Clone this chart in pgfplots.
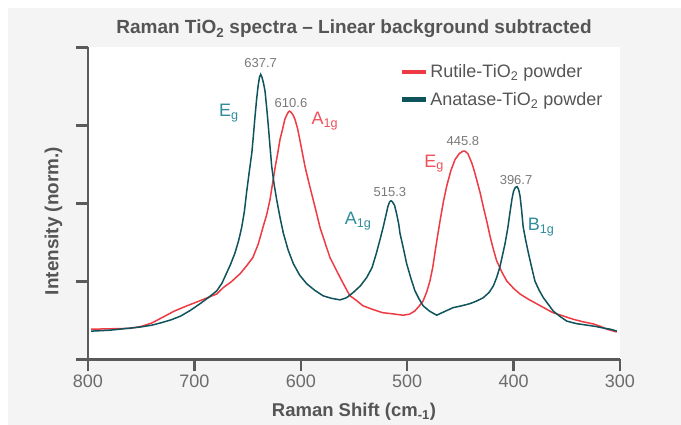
\documentclass[border=0pt]{standalone}
\usepackage{pgfplots}
\pgfplotsset{compat=1.18}
\usepackage{fontspec}
\setmainfont{Liberation Sans}
\definecolor{bggray}{HTML}{F4F4F4}
\definecolor{axisgray}{HTML}{5A5A5A}
\definecolor{rutile}{HTML}{EE3B43}
\definecolor{anatase}{HTML}{0F535C}
\definecolor{teallabel}{HTML}{2F8C9C}
\definecolor{redlabel}{HTML}{F0505A}
\definecolor{ticklab}{HTML}{6B6B6B}
\definecolor{peakgray}{HTML}{7A7A7A}
\definecolor{titlegray}{HTML}{555555}

\pgfplotstableread{
x y
797 0.097
785 0.098
770 0.099
760 0.100
750 0.106
740 0.117
730 0.135
719 0.155
707 0.172
695 0.188
687 0.199
679 0.210
673 0.230
665 0.250
657 0.275
651 0.300
645 0.327
640 0.370
635.5 0.424
632 0.465
629 0.511
626.5 0.565
624 0.618
621.5 0.665
619.5 0.706
617 0.740
615 0.770
613 0.785
611.5 0.794
610.6 0.796
609 0.792
607 0.782
605.5 0.770
603 0.740
601 0.706
598.5 0.662
596 0.618
593 0.575
590 0.534
586 0.480
582 0.424
577 0.372
572.6 0.327
566 0.282
560 0.243
554 0.205
548 0.190
541.5 0.172
532 0.160
523 0.150
513 0.146
504 0.142
498 0.145
493 0.155
489 0.170
485 0.188
481.5 0.218
478.6 0.252
476 0.295
474 0.340
471.5 0.395
469 0.447
466 0.505
463 0.554
459 0.605
455 0.641
451 0.660
447.5 0.668
445.8 0.668
443 0.660
439.4 0.631
437 0.605
434.7 0.576
431.5 0.535
428.5 0.490
425 0.440
422 0.393
419 0.353
416 0.317
411 0.280
406.5 0.252
400 0.228
394 0.210
386 0.193
378 0.178
370 0.163
363 0.150
353 0.139
344 0.129
335 0.121
325 0.114
318 0.106
312.5 0.097
307 0.092
303 0.088
}\rutile

\pgfplotstableread{
x y
797 0.091
790 0.092
779 0.094
765 0.099
751 0.104
740 0.110
732 0.117
722 0.127
713 0.139
704 0.157
695 0.178
687 0.198
679 0.220
674 0.245
670 0.275
666 0.305
662 0.340
658.5 0.380
655.5 0.424
653 0.475
651 0.534
648.5 0.600
646 0.663
644.5 0.720
643 0.780
641.5 0.835
640 0.880
638.8 0.905
637.7 0.914
636.5 0.905
635 0.885
633.6 0.860
632 0.805
630.5 0.748
629 0.685
627.3 0.618
625 0.560
622.6 0.511
619.5 0.455
616.4 0.405
612 0.352
607 0.307
601 0.270
594.5 0.243
587 0.222
579 0.204
571 0.196
563 0.191
557 0.198
551 0.214
544 0.236
538 0.263
533 0.295
529 0.340
525.5 0.385
522.5 0.425
520 0.462
518 0.492
516.5 0.505
515.3 0.509
514 0.506
512 0.495
510 0.468
508 0.435
506.8 0.405
503.5 0.355
500.5 0.307
496.5 0.260
492.7 0.220
489 0.195
485 0.172
479 0.155
472.3 0.142
464 0.155
457 0.166
449 0.172
441 0.179
435 0.187
428.5 0.198
423 0.215
419 0.236
416 0.262
413 0.295
410.5 0.333
408 0.372
405.5 0.420
403.5 0.469
401.5 0.515
400 0.540
398.3 0.552
396.7 0.554
395.3 0.545
394 0.525
392.5 0.480
391 0.425
388.5 0.380
386 0.340
383 0.295
380 0.252
376 0.222
372 0.198
367 0.175
362.7 0.155
356 0.137
350 0.123
341 0.115
331 0.110
323 0.106
316 0.101
309 0.097
303 0.091
}\anatase

\begin{document}
\begin{tikzpicture}[x=1pt,y=1pt]
\fill[white] (0,0) rectangle (681,425);
\fill[bggray] (8,0) rectangle (681,417);
\begin{axis}[
  at={(88pt,65.5pt)}, anchor=south west,
  scale only axis, width=532pt, height=312pt,
  xmin=300, xmax=800, ymin=0, ymax=1, x dir=reverse,
  axis background/.style={fill=white},
  axis x line*=bottom, axis y line*=left,
  axis line style={line width=2.3pt, color=axisgray, -},
  xtick={300,400,...,800}, ytick={0,0.25,0.5,0.75,1}, yticklabels={},
  tick align=outside, major tick length=12pt,
  every tick/.style={line width=2.3pt, color=axisgray},
  xticklabel style={font=\fontsize{18}{20}\selectfont, text=ticklab},
  /pgf/number format/assume math mode=true,
  clip=false,
  legend style={at={(axis description cs:0.586,0.952)}, anchor=north west,
    draw=none, fill=none, font=\fontsize{18}{21}\selectfont, text=titlegray,
    row sep=9pt, inner sep=0pt, cells={anchor=west}},
  legend image code/.code={\draw[#1, line width=4.5pt] (0pt,0pt) -- (24pt,0pt);},
]
\addplot[rutile, line width=1.5pt] table[x=x,y=y] {\rutile};
\addlegendentry{Rutile-TiO\textsubscript{2} powder}
\addplot[anatase, line width=1.5pt] table[x=x,y=y] {\anatase};
\addlegendentry{Anatase-TiO\textsubscript{2} powder}

\begin{scope}[every node/.style={font=\fontsize{13}{15}\selectfont, text=peakgray}]
\node at (axis cs:637.7,0.951) {637.7};
\node at (axis cs:609.2,0.822) {610.6};
\node at (axis cs:516.2,0.537) {515.3};
\node at (axis cs:447.6,0.699) {445.8};
\node at (axis cs:397.7,0.576) {396.7};
\end{scope}
\begin{scope}[every node/.style={font=\fontsize{18}{20}\selectfont}]
\node[text=teallabel] at (axis cs:667.5,0.790) {E\textsubscript{g}};
\node[text=redlabel] at (axis cs:577.3,0.764) {A\textsubscript{1g}};
\node[text=teallabel] at (axis cs:546.2,0.444) {A\textsubscript{1g}};
\node[text=redlabel] at (axis cs:474.8,0.628) {E\textsubscript{g}};
\node[text=teallabel] at (axis cs:374.2,0.424) {B\textsubscript{1g}};
\end{scope}
\end{axis}
\node[font=\bfseries\fontsize{19}{22}\selectfont, text=titlegray] at (354,396) {Raman TiO\textsubscript{2} spectra -- Linear background subtracted};
\node[font=\bfseries\fontsize{18.5}{21}\selectfont, text=titlegray] at (354,13) {Raman Shift (cm\textsubscript{-1})};
\node[font=\bfseries\fontsize{18.9}{21}\selectfont, text=titlegray, rotate=90] at (53.5,204) {Intensity (norm.)};
\end{tikzpicture}
\end{document}
